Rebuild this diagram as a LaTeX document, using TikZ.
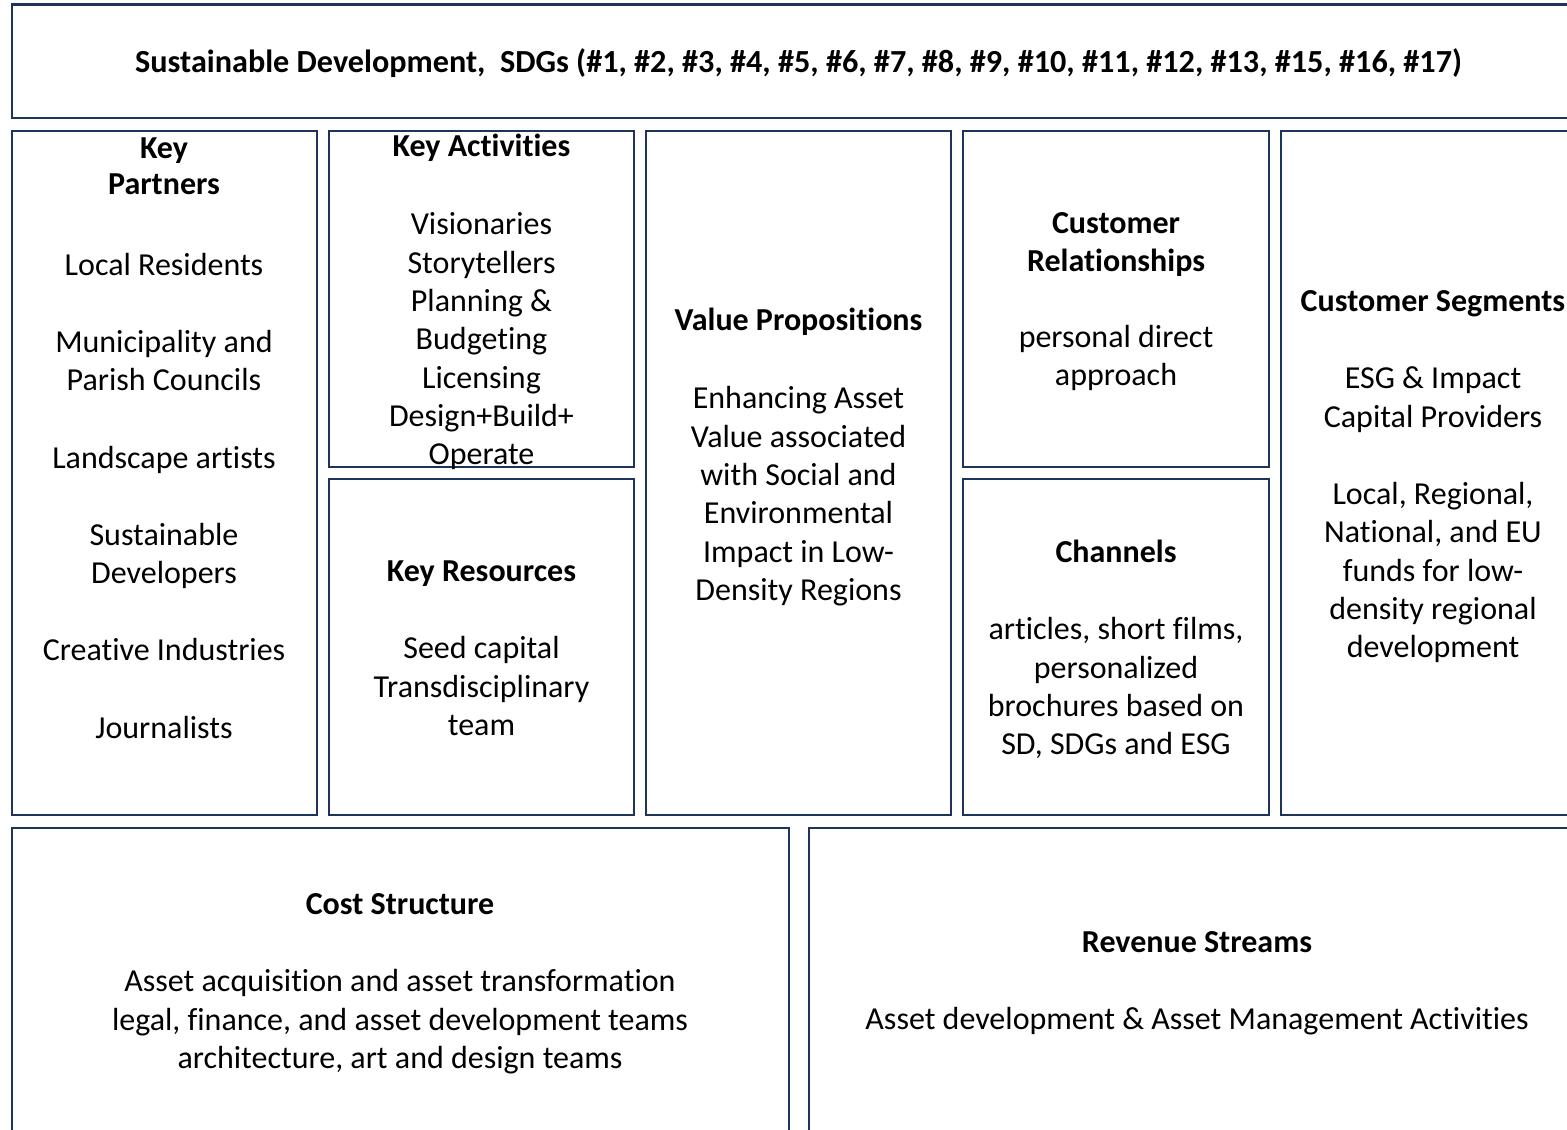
\documentclass[tikz,border=0pt]{standalone}
\usepackage{fontspec}
\setmainfont[Ligatures=NoCommon]{Carlito}
\definecolor{navy}{RGB}{31,52,92}
\begin{document}
\begin{tikzpicture}[x=1pt,y=-1pt,
  box/.style={draw=navy, line width=2.8pt},
  txt/.style={anchor=north, inner sep=0pt, align=center, font=\fontsize{32}{38.3}\selectfont},
  ttl/.style={anchor=base, inner sep=0pt, font=\fontsize{32.2}{38.3}\selectfont\bfseries}]
\useasboundingbox (0,0) rectangle (1567,1130);
\clip (0,0) rectangle (1567,1130);
% boxes
\draw[box] (12,4.5) rectangle (1620,118);
\draw[box] (12,131) rectangle (317,815);
\draw[box] (329,131) rectangle (634,467);
\draw[box] (329,479) rectangle (634,815);
\draw[box] (646,131) rectangle (951,815);
\draw[box] (963,131) rectangle (1269,467);
\draw[box] (963,479) rectangle (1269,815);
\draw[box] (1281,131) rectangle (1620,815);
\draw[box] (12,828) rectangle (789,1180);
\draw[box] (809,828) rectangle (1620,1180);
% texts
\node[ttl] (title) at (798.5,72) {Sustainable Development,\ \ SDGs (\#1, \#2, \#3, \#4, \#5, \#6, \#7, \#8, \#9, \#10, \#11, \#12, \#13, \#15, \#16, \#17)};
\node[txt] (kp) at (164,131.5) {\strut\textbf{Key}\\[-2pt]\textbf{Partners}\\[42pt]Local Residents\\[39pt]Municipality and\\Parish Councils\\[39pt]Landscape artists\\[39pt]Sustainable\\Developers\\[39pt]Creative Industries\\[39pt]Journalists};
\node[txt] (ka) at (481.5,129.5) {\strut\textbf{Key Activities}\\[40pt]Visionaries\\Storytellers\\Planning \&\\Budgeting\\Licensing\\Design+Build+\\Operate};
\node[txt] (kr) at (481.5,554.5) {\strut\textbf{Key Resources}\\[39pt]Seed capital\\Transdisciplinary\\team};
\node[txt] (vp) at (798.5,303.5) {\strut\textbf{Value Propositions}\\[40pt]Enhancing Asset\\Value associated\\with Social and\\Environmental\\Impact in Low-\\Density Regions};
\node[txt] (cr) at (1116,206.5) {\strut\textbf{Customer}\\\textbf{Relationships}\\[37pt]personal direct\\approach};
\node[txt] (ch) at (1116,535.5) {\strut\textbf{Channels}\\[39pt]articles, short films,\\personalized\\brochures based on\\SD, SDGs and ESG};
\node[txt] (cs) at (1433,284.5) {\strut\textbf{Customer Segments}\\[39pt]ESG \& Impact\\Capital Providers\\[39pt]Local, Regional,\\National, and EU\\funds for low-\\density regional\\development};
\node[txt] (cost) at (400,887.5) {\strut\textbf{Cost Structure}\\[39pt]Asset acquisition and asset transformation\\legal, finance, and asset development teams\\architecture, art and design teams};
\node[txt] (rev) at (1197,925.5) {\strut\textbf{Revenue Streams}\\[39pt]Asset development \& Asset Management Activities};
\end{tikzpicture}
\end{document}
